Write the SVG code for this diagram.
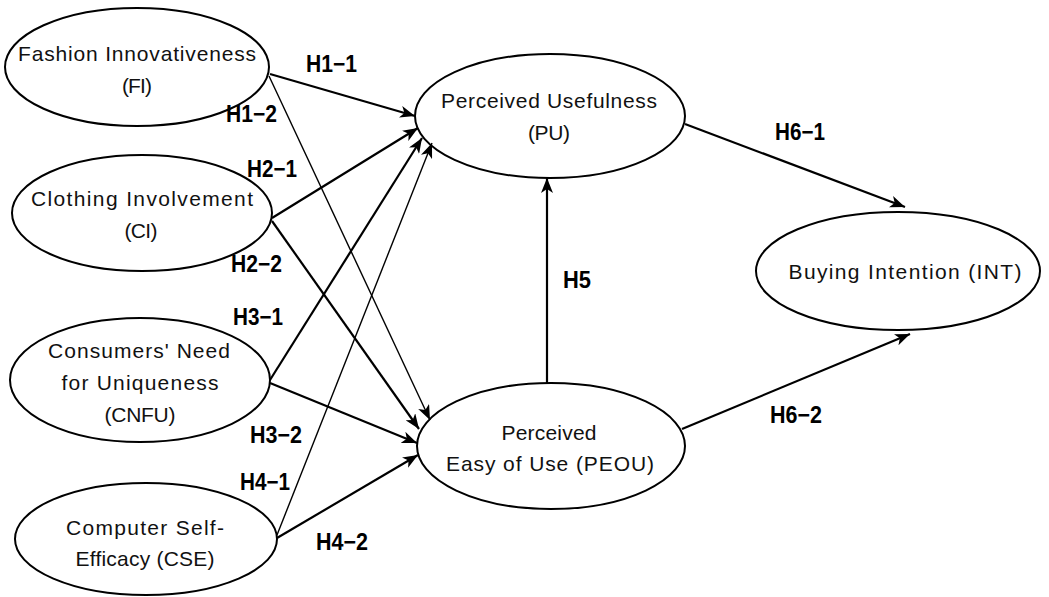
<svg xmlns="http://www.w3.org/2000/svg" width="1049" height="597" viewBox="0 0 1049 597">
  <defs>
    <marker id="arrow" markerUnits="userSpaceOnUse" markerWidth="16" markerHeight="12" refX="15" refY="6" orient="auto">
      <path d="M0,0 L15,6 L0,12 L4,6 z" fill="#000"/>
    </marker>
  </defs>
  <style>
    .node ellipse { fill: #fff; stroke: #000; stroke-width: 2; }
    .node text { font-family: "Liberation Sans", Arial, sans-serif; font-size: 21px; fill: #111; text-anchor: middle; }
    .edge { stroke: #000; stroke-width: 2.2; fill: none; marker-end: url(#arrow); }
    .thin { stroke-width: 1.4; }
    .lbl { font-family: "Liberation Sans", Arial, sans-serif; font-size: 23px; font-weight: bold; fill: #000; }
  </style>
  <rect width="1049" height="597" fill="#fff"/>

  <!-- constructs -->
  <g id="fi" class="node">
    <ellipse cx="137" cy="67" rx="132" ry="59"/>
    <text x="137" y="61" textLength="238" lengthAdjust="spacing">Fashion Innovativeness</text>
    <text x="137" y="93" textLength="30" lengthAdjust="spacing">(FI)</text>
  </g>
  <g id="ci" class="node">
    <ellipse cx="142" cy="213" rx="130" ry="58"/>
    <text x="142" y="206" textLength="222" lengthAdjust="spacing">Clothing Involvement</text>
    <text x="141" y="238" textLength="33" lengthAdjust="spacing">(CI)</text>
  </g>
  <g id="cnfu" class="node">
    <ellipse cx="140" cy="380" rx="130" ry="62"/>
    <text x="139" y="358" textLength="182" lengthAdjust="spacing">Consumers' Need</text>
    <text x="140" y="390" textLength="157" lengthAdjust="spacing">for Uniqueness</text>
    <text x="140" y="422" textLength="71" lengthAdjust="spacing">(CNFU)</text>
  </g>
  <g id="cse" class="node">
    <ellipse cx="146" cy="539" rx="131" ry="56"/>
    <text x="145" y="535" textLength="158" lengthAdjust="spacing">Computer Self-</text>
    <text x="145" y="566" textLength="139" lengthAdjust="spacing">Efficacy (CSE)</text>
  </g>
  <g id="pu" class="node">
    <ellipse cx="550" cy="116" rx="135" ry="62"/>
    <text x="549" y="108" textLength="216" lengthAdjust="spacing">Perceived Usefulness</text>
    <text x="549" y="140" textLength="42" lengthAdjust="spacing">(PU)</text>
  </g>
  <g id="peou" class="node">
    <ellipse cx="551" cy="446" rx="134" ry="63"/>
    <text x="549" y="440" textLength="95" lengthAdjust="spacing">Perceived</text>
    <text x="550" y="471" textLength="208" lengthAdjust="spacing">Easy of Use (PEOU)</text>
  </g>
  <g id="int" class="node">
    <ellipse cx="898" cy="271" rx="142" ry="59"/>
    <text x="905" y="279" textLength="233" lengthAdjust="spacing">Buying Intention (INT)</text>
  </g>

  <!-- hypothesised paths -->
  <g id="connectors">
    <line class="edge" x1="270" y1="74" x2="415" y2="116"/>
    <line class="edge thin" x1="269" y1="76" x2="430" y2="420"/>
    <line class="edge" x1="272" y1="218" x2="418" y2="128"/>
    <line class="edge" x1="272" y1="221" x2="419" y2="429"/>
    <line class="edge" x1="270" y1="380" x2="422" y2="138"/>
    <line class="edge" x1="270" y1="383" x2="417" y2="443"/>
    <line class="edge thin" x1="277" y1="535" x2="432" y2="143"/>
    <line class="edge" x1="277" y1="538" x2="418" y2="455"/>
    <line class="edge" x1="547" y1="383" x2="547" y2="178"/>
    <line class="edge" x1="685" y1="124" x2="905" y2="207"/>
    <line class="edge" x1="682" y1="429" x2="910" y2="334"/>
  </g>

  <!-- path labels -->
  <g id="labels">
    <text class="lbl" x="306" y="72" textLength="51" lengthAdjust="spacingAndGlyphs">H1−1</text>
    <text class="lbl" x="226" y="122" textLength="51" lengthAdjust="spacingAndGlyphs">H1−2</text>
    <text class="lbl" x="247" y="177" textLength="50" lengthAdjust="spacingAndGlyphs">H2−1</text>
    <text class="lbl" x="231" y="272" textLength="51" lengthAdjust="spacingAndGlyphs">H2−2</text>
    <text class="lbl" x="233" y="325" textLength="50" lengthAdjust="spacingAndGlyphs">H3−1</text>
    <text class="lbl" x="250" y="443" textLength="52" lengthAdjust="spacingAndGlyphs">H3−2</text>
    <text class="lbl" x="240" y="490" textLength="50" lengthAdjust="spacingAndGlyphs">H4−1</text>
    <text class="lbl" x="316" y="550" textLength="52" lengthAdjust="spacingAndGlyphs">H4−2</text>
    <text class="lbl" x="563" y="288" textLength="28" lengthAdjust="spacingAndGlyphs">H5</text>
    <text class="lbl" x="775" y="140" textLength="50" lengthAdjust="spacingAndGlyphs">H6−1</text>
    <text class="lbl" x="770" y="423" textLength="52" lengthAdjust="spacingAndGlyphs">H6−2</text>
  </g>
</svg>
